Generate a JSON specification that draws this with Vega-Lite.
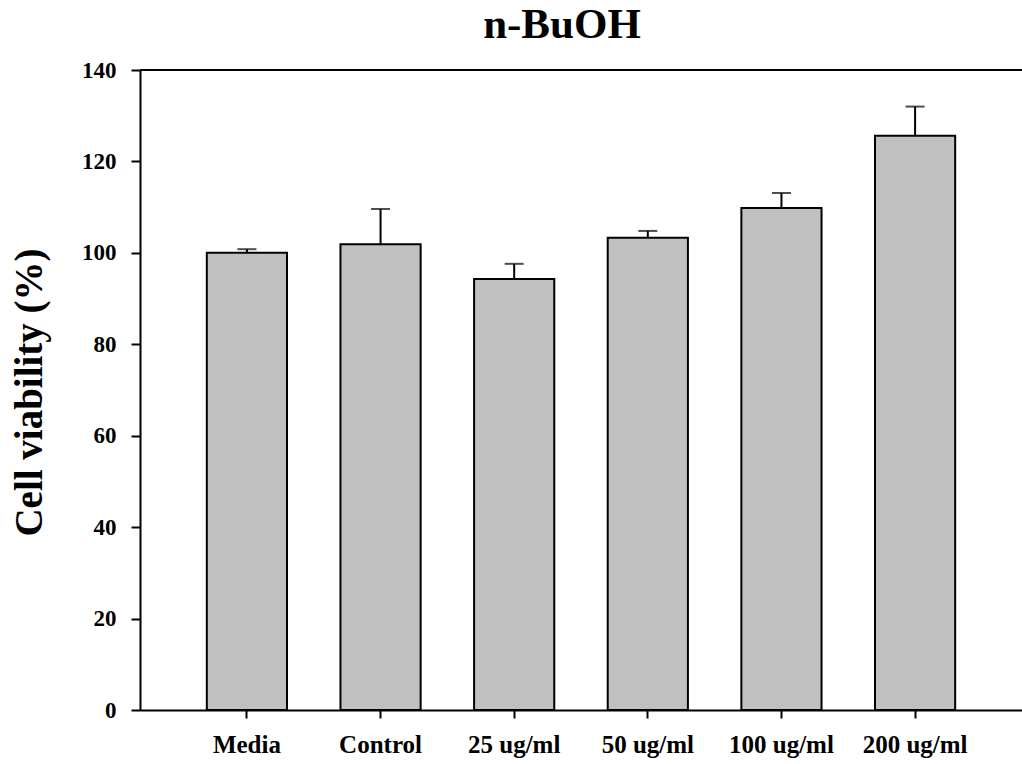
{
  "$schema": "https://vega.github.io/schema/vega-lite/v6.json",
  "autosize": "none",
  "padding": {"left": 140, "top": 70, "right": 0, "bottom": 54},
  "width": 882,
  "height": 640,
  "background": "white",
  "title": {
    "text": "n-BuOH",
    "font": "Liberation Serif",
    "fontSize": 43,
    "fontWeight": "bold",
    "color": "#000000",
    "anchor": "middle",
    "dx": -19,
    "offset": 12
  },
  "config": {
    "view": {"stroke": null},
    "axis": {"labelFont": "Liberation Serif", "titleFont": "Liberation Serif", "labelColor": "#000000", "titleColor": "#000000", "domainColor": "#000000", "tickColor": "#000000", "grid": false}
  },
  "data": {
    "values": [
      {"group": "Media", "value": 100.0, "upper": 100.8},
      {"group": "Control", "value": 101.9, "upper": 109.6},
      {"group": "25 ug/ml", "value": 94.3, "upper": 97.6},
      {"group": "50 ug/ml", "value": 103.3, "upper": 104.8},
      {"group": "100 ug/ml", "value": 109.8, "upper": 113.1},
      {"group": "200 ug/ml", "value": 125.6, "upper": 132.0}
    ]
  },
  "encoding": {
    "x": {
      "field": "group",
      "type": "nominal",
      "sort": null,
      "scale": {"paddingInner": 0.4, "paddingOuter": 0.5},
      "axis": {
        "title": null,
        "labelAngle": 0,
        "labelFontSize": 25,
        "labelFontWeight": "bold",
        "labelPadding": 14,
        "tickSize": 8,
        "tickWidth": 2,
        "domainWidth": 2
      }
    }
  },
  "layer": [
    {
      "mark": {"type": "rule", "color": "#000000", "strokeWidth": 2},
      "encoding": {"x": null, "y": {"datum": 140, "type": "quantitative", "scale": {"domain": [0, 140]}}}
    },
    {
      "mark": {"type": "rule", "color": "#000000", "strokeWidth": 2},
      "encoding": {
        "y": {"field": "value", "type": "quantitative"},
        "y2": {"field": "upper"}
      }
    },
    {
      "mark": {"type": "tick", "color": "#000000", "thickness": 2, "size": 19, "orient": "horizontal"},
      "encoding": {"y": {"field": "upper", "type": "quantitative"}}
    },
    {
      "mark": {"type": "bar", "fill": "#c0c0c0", "stroke": "#000000", "strokeWidth": 2},
      "encoding": {
        "y": {
          "field": "value",
          "type": "quantitative",
          "scale": {"domain": [0, 140], "nice": false},
          "axis": {
            "title": "Cell viability (%)",
            "titleFontSize": 39,
            "titleFontWeight": "bold",
            "titleX": -111,
            "titleY": 322,
            "titleBaseline": "middle",
            "titleAlign": "center",
            "values": [0, 20, 40, 60, 80, 100, 120, 140],
            "labelFontSize": 23,
            "labelFontWeight": "bold",
            "labelPadding": 15,
            "tickSize": 9,
            "tickWidth": 2,
            "domainWidth": 2
          }
        }
      }
    }
  ]
}
